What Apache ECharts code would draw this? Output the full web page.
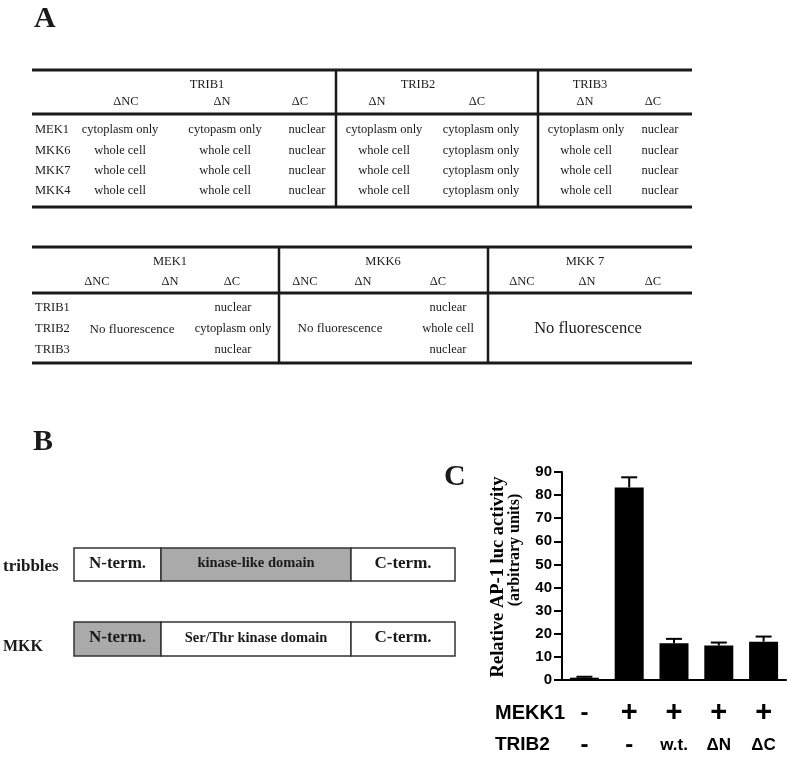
<!DOCTYPE html>
<html><head><meta charset="utf-8">
<script src="https://cdn.jsdelivr.net/npm/echarts@6/dist/echarts.min.js"></script>
<style>html,body{margin:0;padding:0;background:#fff}#c{width:787px;height:760px}</style>
</head><body><div id="c"></div>
<script>
// ---------- Panel C data ----------
const conditions = ['c1', 'c2', 'c3', 'c4', 'c5'];
const mekk1Labels = ['-', '+', '+', '+', '+'];
const trib2Labels = ['-', '-', 'w.t.', 'ΔN', 'ΔC'];
const activity = [1.0, 83.3, 15.9, 14.9, 16.6];
const activityErr = [0.4, 4.4, 1.9, 1.3, 2.2];
const yMin = 0, yMax = 90, yStep = 10;

// ---------- Panel A, table 1 ----------
const t1Groups = ['TRIB1', 'TRIB2', 'TRIB3'];
const t1Cols = ['ΔNC', 'ΔN', 'ΔC', 'ΔN', 'ΔC', 'ΔN', 'ΔC'];
const t1Rows = ['MEK1', 'MKK6', 'MKK7', 'MKK4'];
const t1Cells = [
  ['cytoplasm only', 'cytopasm only', 'nuclear', 'cytoplasm only', 'cytoplasm only', 'cytoplasm only', 'nuclear'],
  ['whole cell', 'whole cell', 'nuclear', 'whole cell', 'cytoplasm only', 'whole cell', 'nuclear'],
  ['whole cell', 'whole cell', 'nuclear', 'whole cell', 'cytoplasm only', 'whole cell', 'nuclear'],
  ['whole cell', 'whole cell', 'nuclear', 'whole cell', 'cytoplasm only', 'whole cell', 'nuclear']
];

// ---------- Panel A, table 2 ----------
const t2Groups = ['MEK1', 'MKK6', 'MKK 7'];
const t2Cols = ['ΔNC', 'ΔN', 'ΔC', 'ΔNC', 'ΔN', 'ΔC', 'ΔNC', 'ΔN', 'ΔC'];
const t2Rows = ['TRIB1', 'TRIB2', 'TRIB3'];
const t2Mek1DeltaC = ['nuclear', 'cytoplasm only', 'nuclear'];
const t2Mkk6DeltaC = ['nuclear', 'whole cell', 'nuclear'];
const noFluorescence = 'No fluorescence';

// ---------- Panel B ----------
const proteins = ['tribbles', 'MKK'];
const domains = [
  ['N-term.', 'kinase-like domain', 'C-term.'],
  ['N-term.', 'Ser/Thr kinase domain', 'C-term.']
];
const panelLetters = ['A', 'B', 'C'];

// ---------- layout (positions / styles) ----------
const SERIF = '"Liberation Serif", "DejaVu Serif", serif';
const SANS = '"Liberation Sans", Arial, sans-serif';
const INK = '#1a1a1a';
const g = [];
function txt(t, x, y, font, align, extra) {
  g.push(Object.assign({
    type: 'text', silent: true,
    style: { text: t, x: x, y: y, font: font, fill: INK,
      align: align || 'center', textAlign: align || 'center',
      verticalAlign: 'middle', textVerticalAlign: 'middle' }
  }, extra || {}));
}
function line(x1, y1, x2, y2, w) {
  g.push({ type: 'line', silent: true, shape: { x1, y1, x2, y2 },
    style: { stroke: INK, lineWidth: w } });
}
const bodyFont = '12.5px ' + SERIF;

// Panel letters
const letterPos = [[34, 19], [33, 442], [444, 477]];
panelLetters.forEach((L, i) => txt(L, letterPos[i][0], letterPos[i][1], 'bold 30px ' + SERIF, 'left'));

// Table 1
const T1 = { x1: 32, x2: 692, top: 70, sep: 114, bottom: 207, v: [336, 538] };
line(T1.x1, T1.top, T1.x2, T1.top, 3);
line(T1.x1, T1.sep, T1.x2, T1.sep, 3);
line(T1.x1, T1.bottom, T1.x2, T1.bottom, 3);
T1.v.forEach(x => line(x, T1.top, x, T1.bottom, 2.5));
const t1GroupX = [207, 418, 590];
const t1HeadX = [126, 222, 300, 377, 477, 585, 653];
const t1CellX = [120, 225, 307, 384, 481, 586, 660];
const t1RowY = [130, 151, 171, 191];
t1Groups.forEach((s, i) => txt(s, t1GroupX[i], 85, bodyFont));
t1Cols.forEach((s, i) => txt(s, t1HeadX[i], 102, bodyFont));
t1Rows.forEach((s, r) => {
  txt(s, 35, t1RowY[r], bodyFont, 'left');
  t1Cells[r].forEach((c, k) => txt(c, t1CellX[k], t1RowY[r], bodyFont));
});

// Table 2
const T2 = { x1: 32, x2: 692, top: 247, sep: 293, bottom: 363, v: [279, 488] };
line(T2.x1, T2.top, T2.x2, T2.top, 3);
line(T2.x1, T2.sep, T2.x2, T2.sep, 3);
line(T2.x1, T2.bottom, T2.x2, T2.bottom, 3);
T2.v.forEach(x => line(x, T2.top, x, T2.bottom, 2.5));
const t2GroupX = [170, 383, 585];
const t2HeadX = [97, 170, 232, 305, 363, 438, 522, 587, 653];
const t2RowY = [308, 329, 350];
t2Groups.forEach((s, i) => txt(s, t2GroupX[i], 262, bodyFont));
t2Cols.forEach((s, i) => txt(s, t2HeadX[i], 282, bodyFont));
t2Rows.forEach((s, r) => {
  txt(s, 35, t2RowY[r], bodyFont, 'left');
  txt(t2Mek1DeltaC[r], 233, t2RowY[r], bodyFont);
  txt(t2Mkk6DeltaC[r], 448, t2RowY[r], bodyFont);
});
txt(noFluorescence, 132, 330, '13px ' + SERIF);
txt(noFluorescence, 340, 329, '13px ' + SERIF);
txt(noFluorescence, 588, 329, '16.5px ' + SERIF);

// Panel B domain diagrams
const boxX = [74, 161, 351, 455];
const boxY = [[548, 581], [622, 656]];
const fills = [['#fff', '#aaaaaa', '#fff'], ['#aaaaaa', '#fff', '#fff']];
const partFonts = ['bold 17px ' + SERIF, 'bold 14.5px ' + SERIF, 'bold 17px ' + SERIF];
const labelY = [567, 647];
const labelFont = ['bold 17px ' + SERIF, 'bold 16px ' + SERIF];
proteins.forEach((p, r) => {
  txt(p, 3, labelY[r], labelFont[r], 'left');
  const [y0, y1] = boxY[r];
  for (let k = 0; k < 3; k++) {
    g.push({ type: 'rect', silent: true,
      shape: { x: boxX[k], y: y0, width: boxX[k + 1] - boxX[k], height: y1 - y0 },
      style: { fill: fills[r][k], stroke: '#333', lineWidth: 1.5 } });
    txt(domains[r][k], (boxX[k] + boxX[k + 1]) / 2, (y0 + y1) / 2 - 1, partFonts[k]);
  }
});

// Panel C titles and row labels
g.push({ type: 'text', silent: true, x: 498, y: 577, rotation: Math.PI / 2,
  style: { text: 'Relative AP-1 luc activity', x: 0, y: 0, font: 'bold 18.5px ' + SERIF, fill: '#000',
    align: 'center', textAlign: 'center', verticalAlign: 'middle', textVerticalAlign: 'middle' } });
g.push({ type: 'text', silent: true, x: 515, y: 550, rotation: Math.PI / 2,
  style: { text: '(arbitrary units)', x: 0, y: 0, font: 'bold 16px ' + SERIF, fill: '#000',
    align: 'center', textAlign: 'center', verticalAlign: 'middle', textVerticalAlign: 'middle' } });
g.push({ type: 'text', silent: true, style: { text: 'MEKK1', x: 495, y: 713, font: 'bold 20px ' + SANS, fill: '#000',
  align: 'left', textAlign: 'left', verticalAlign: 'middle', textVerticalAlign: 'middle' } });
g.push({ type: 'text', silent: true, style: { text: 'TRIB2', x: 495, y: 745, font: 'bold 19px ' + SANS, fill: '#000',
  align: 'left', textAlign: 'left', verticalAlign: 'middle', textVerticalAlign: 'middle' } });

function richKey(s, row) {
  if (s === '-') return 'd';
  if (s === '+') return 'p';
  return 't';
}

const chart = echarts.init(document.getElementById('c'), null, { renderer: 'canvas' });
chart.setOption({
  backgroundColor: '#fff',
  animation: false,
  grid: { left: 562, top: 472, width: 224, height: 208 },
  xAxis: {
    type: 'category', data: conditions,
    axisLine: { lineStyle: { color: '#000', width: 2 } },
    axisTick: { alignWithLabel: true, length: 6, lineStyle: { color: '#000', width: 2 } },
    axisLabel: {
      interval: 0, margin: 17, color: '#000',
      formatter: (v, i) => '{' + richKey(mekk1Labels[i]) + '|' + mekk1Labels[i] + '}\n{' +
        richKey(trib2Labels[i]) + '|' + trib2Labels[i] + '}',
      rich: {
        p: { fontFamily: SANS, fontWeight: 'bold', fontSize: 29, lineHeight: 32, color: '#000' },
        d: { fontFamily: SANS, fontWeight: 'bold', fontSize: 24, lineHeight: 32, color: '#000' },
        t: { fontFamily: SANS, fontWeight: 'bold', fontSize: 17, lineHeight: 32, color: '#000' }
      }
    }
  },
  yAxis: {
    type: 'value', min: yMin, max: yMax, interval: yStep,
    axisLine: { show: true, lineStyle: { color: '#000', width: 2 } },
    axisTick: { show: true, length: 8, lineStyle: { color: '#000', width: 2 } },
    axisLabel: { margin: 10, color: '#000', fontFamily: SANS, fontWeight: 'bold', fontSize: 15 },
    splitLine: { show: false }
  },
  series: [
    { type: 'bar', data: activity, barWidth: 29, itemStyle: { color: '#000' }, z: 2 },
    {
      type: 'custom', z: 3,
      data: activity.map((v, i) => [i, v, v + activityErr[i]]),
      encode: { x: 0, y: [1, 2] },
      renderItem: (params, api) => {
        const b = api.coord([api.value(0), api.value(1)]);
        const t = api.coord([api.value(0), api.value(2)]);
        const hw = 8;
        return { type: 'group', children: [
          { type: 'line', shape: { x1: b[0], y1: b[1], x2: t[0], y2: t[1] }, style: { stroke: '#000', lineWidth: 2 } },
          { type: 'line', shape: { x1: t[0] - hw, y1: t[1], x2: t[0] + hw, y2: t[1] }, style: { stroke: '#000', lineWidth: 2 } }
        ] };
      }
    }
  ],
  graphic: { elements: g }
});
</script></body></html>
